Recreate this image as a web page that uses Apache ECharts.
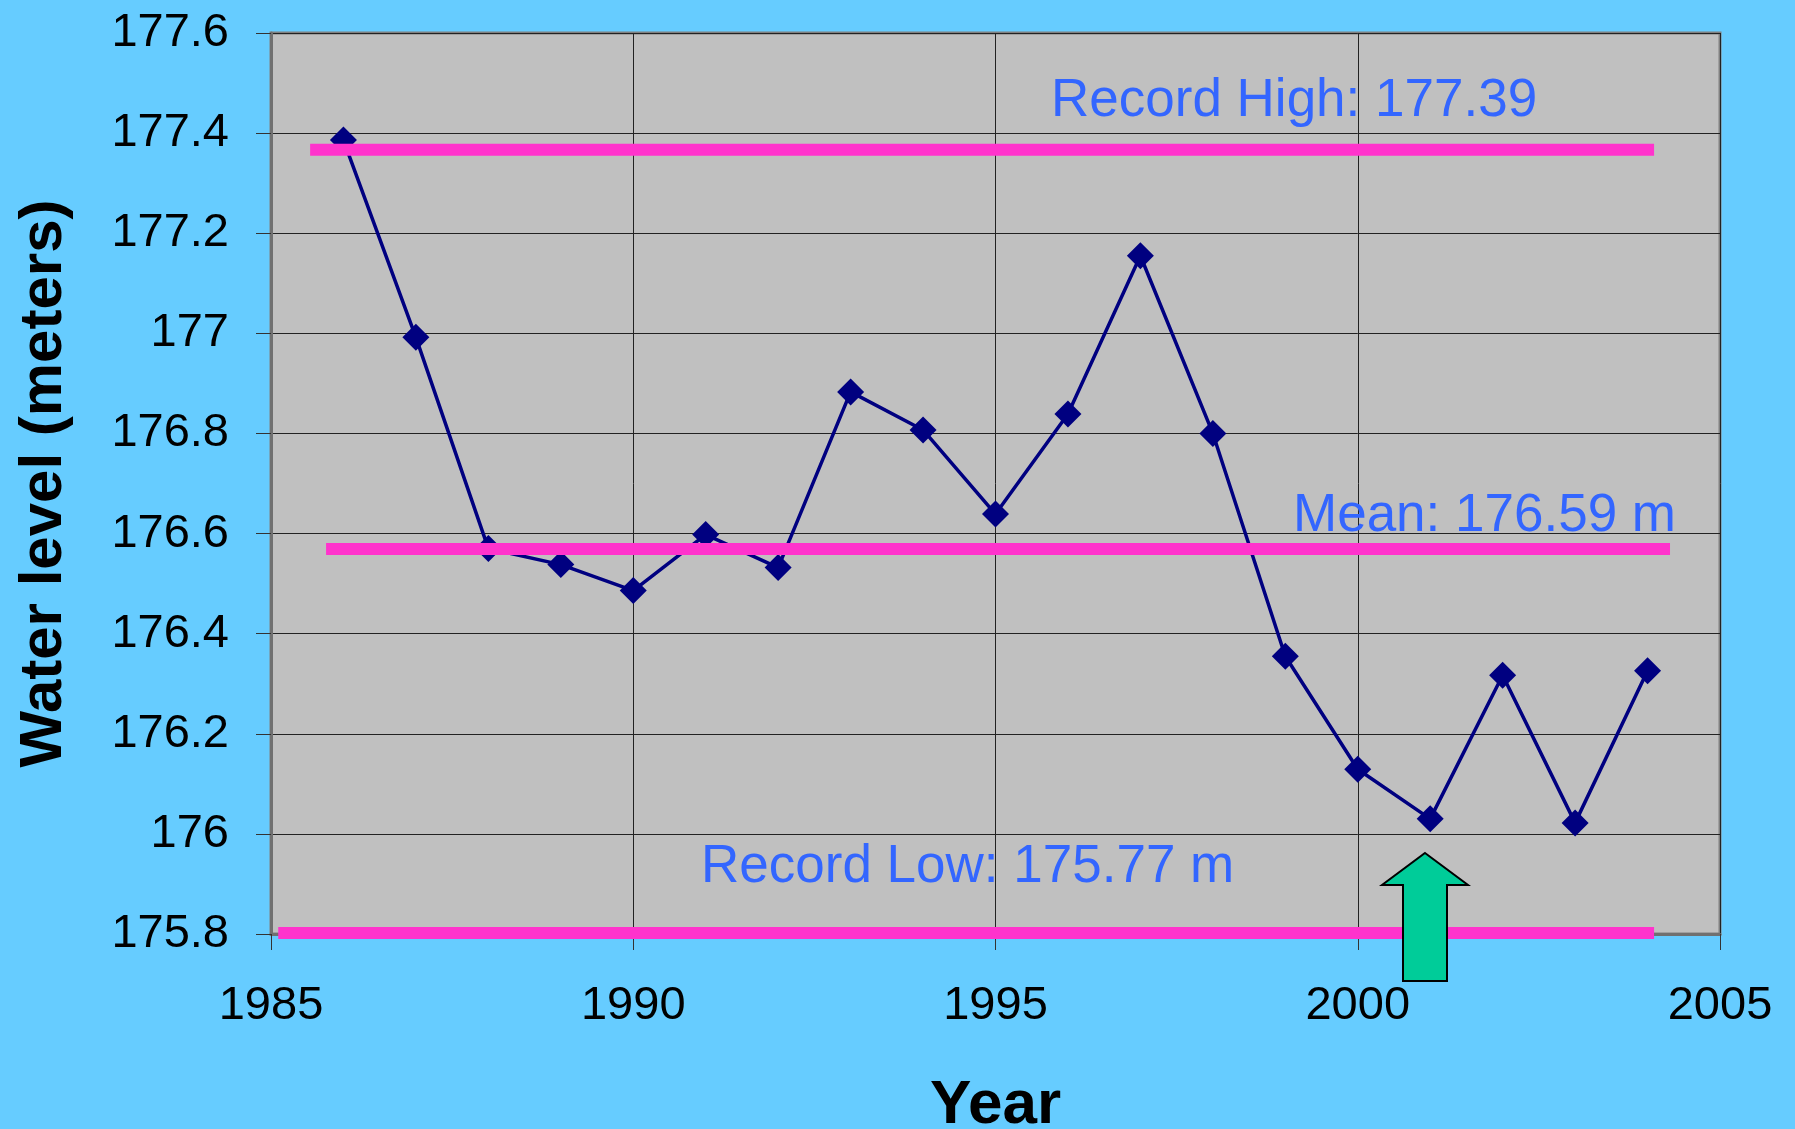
<!DOCTYPE html>
<html>
<head>
<meta charset="utf-8">
<script src="https://cdn.jsdelivr.net/npm/echarts@6/dist/echarts.min.js"></script>
<style>
html,body{margin:0;padding:0;background:#66CCFF;}
#chart{width:1795px;height:1129px;}
</style>
</head>
<body>
<div id="chart"></div>
<script>
// ---- data ----
const years = [1986,1987,1988,1989,1990,1991,1992,1993,1994,1995,1996,1997,1998,1999,2000,2001,2002,2003,2004];
const levels = [177.386,176.992,176.570,176.538,176.486,176.598,176.532,176.883,176.807,176.639,176.839,177.155,176.800,176.355,176.129,176.030,176.317,176.022,176.326];
const recordHighLine = [[1985.54,177.367],[2004.09,177.367]];
const meanLine = [[1985.76,176.569],[2004.31,176.569]];
const recordLowLine = [[1985.10,175.802],[2004.09,175.802]];
const annotations = ["Record High: 177.39","Mean: 176.59 m","Record Low: 175.77 m"];
const yTicks = {min:175.8, max:177.6, step:0.2};
const xTicks = {min:1985, max:2005, step:5};

const FONT = "'Liberation Sans', Arial, sans-serif";
const chart = echarts.init(document.getElementById('chart'));
const pink = '#FF33CC';
const refStyle = {type:'line', symbol:'none', z:5, silent:true, lineStyle:{color:pink, width:12, cap:'butt'}};

chart.setOption({
  animation:false,
  backgroundColor:'#66CCFF',
  grid:{left:271, top:33, right:75, bottom:195, containLabel:false, outerBoundsMode:'none',
        show:true, backgroundColor:'#C0C0C0', borderColor:'#808080', borderWidth:3},
  xAxis:{
    type:'value', min:xTicks.min, max:xTicks.max, interval:xTicks.step,
    name:'Year', nameLocation:'middle', nameGap:141,
    nameTextStyle:{fontFamily:FONT, fontSize:62, fontWeight:'bold', color:'#000'},
    axisLine:{show:true, lineStyle:{color:'#707070', width:3}},
    axisTick:{show:true, length:16, lineStyle:{color:'#333', width:1}},
    axisLabel:{margin:49, fontFamily:FONT, fontSize:47, color:'#000', formatter:v=>String(v)},
    splitLine:{show:true, lineStyle:{color:'#222', width:1}}
  },
  yAxis:{
    type:'value', min:yTicks.min, max:yTicks.max, interval:yTicks.step,
    name:'Water level (meters)', nameLocation:'middle', nameGap:197,
    nameTextStyle:{fontFamily:FONT, fontSize:60, fontWeight:'bold', color:'#000'},
    axisLine:{show:true, lineStyle:{color:'#707070', width:3}},
    axisTick:{show:true, length:15, lineStyle:{color:'#333', width:1}},
    axisLabel:{margin:42, fontFamily:FONT, fontSize:47, color:'#000', formatter:v=>String(Number(v.toFixed(1)))},
    splitLine:{show:true, lineStyle:{color:'#222', width:1}}
  },
  series:[
    {type:'line', z:3, data:years.map((y,i)=>[y,levels[i]]), symbol:'diamond', symbolSize:27,
     itemStyle:{color:'#000080'}, lineStyle:{color:'#000080', width:3.5}},
    Object.assign({data:recordHighLine}, refStyle),
    Object.assign({data:meanLine}, refStyle),
    Object.assign({data:recordLowLine}, refStyle)
  ],
  graphic:[
    {type:'text', left:1051, top:75, z:10, style:{text:annotations[0], font:"53px "+FONT, fill:'#3366FF'}},
    {type:'text', left:1293, top:490, z:10, style:{text:annotations[1], font:"53px "+FONT, fill:'#3366FF'}},
    {type:'text', left:701, top:841, z:10, style:{text:annotations[2], font:"53px "+FONT, fill:'#3366FF'}},
    {type:'polygon', z:20, shape:{points:[[1425,853],[1468,885],[1447,885],[1447,981],[1403,981],[1403,885],[1382,885]]},
     style:{fill:'#00CC99', stroke:'#000', lineWidth:2}}
  ]
});
</script>
</body>
</html>
